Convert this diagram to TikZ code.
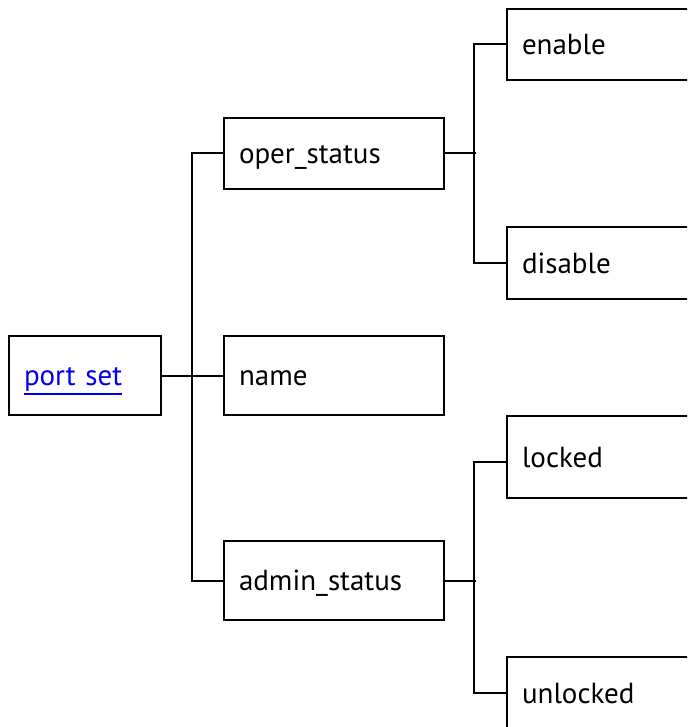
\documentclass[tikz,border=0pt]{standalone}
\usepackage{fontspec}
\setmainfont{PT Sans}
\definecolor{linkblue}{HTML}{0000EE}
% hyperlink-style text: blue with a solid underline
\newcommand\linktext[1]{\textcolor{linkblue}{\vtop{\hbox{#1}\kern2pt\hrule height 1.6pt}}}
\begin{document}
\begin{tikzpicture}[x=1pt,y=-1pt,
  treebox/.style={draw=black, line width=2pt, fill=white, anchor=north west,
    inner xsep=15pt, inner ysep=0pt, align=left,
    text height=20pt, text depth=0pt,
    font=\fontsize{29}{33}\selectfont},
  wire/.style={draw=black, line width=2pt}]
  \useasboundingbox (0,0) rectangle (687,727);
  \clip (0,0) rectangle (687,727);
  % root
  \node[treebox, text width=122pt, minimum height=79pt] (portset) at (8,335)
    {\linktext{port set}};
  % first level
  \node[treebox, text width=190pt, minimum height=71pt] (oper) at (223,117) {oper\_status};
  \node[treebox, text width=190pt, minimum height=79pt] (name) at (223,335) {name};
  \node[treebox, text width=190pt, minimum height=79pt] (admin) at (223,540) {admin\_status};
  % second level (runs past the right edge)
  \node[treebox, text width=220pt, minimum height=71pt] (enable) at (506,8) {enable};
  \node[treebox, text width=220pt, minimum height=72pt] (disable) at (506,226) {disable};
  \node[treebox, text width=220pt, minimum height=82pt] (locked) at (506,415) {locked};
  \node[treebox, text width=220pt, minimum height=72pt] (unlocked) at (506,656) {unlocked};
  % connectors
  \draw[wire] (portset.east) -- (name.west);
  \draw[wire] (oper.west) -- ++(-31,0) |- (admin.west);
  \draw[wire] (oper.east) -- ++(31,0);
  \draw[wire] (enable.west) -- ++(-32,0) |- (disable.west);
  \draw[wire] (admin.east) -- ++(31,0);
  \draw[wire] ([yshift=-5pt]locked.west) -- ++(-32,0) |- (unlocked.west);
\end{tikzpicture}
\end{document}
